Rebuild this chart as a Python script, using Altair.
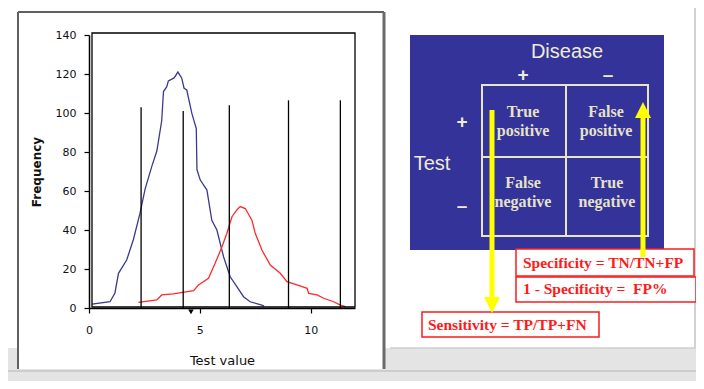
import altair as alt
import pandas as pd

# ---------------- data ----------------
blue_x = [0.14, 0.95, 1.17, 1.33, 1.70, 2.00, 2.30, 2.53, 2.83, 3.06, 3.28, 3.36,
          3.51, 3.58, 3.84, 4.01, 4.18, 4.29, 4.41, 4.64, 4.84, 4.87, 5.02, 5.32,
          5.54, 5.77, 6.07, 6.37, 6.67, 6.97, 7.27, 7.80, 7.90]
blue_y = [2.0, 3.2, 7.7, 17.8, 24.6, 35.0, 48.5, 61.0, 72.5, 80.5, 96.0, 111.0,
          113.5, 116.5, 118.0, 121.0, 118.0, 112.7, 111.8, 99.8, 92.0, 71.0, 65.6, 60.5,
          45.0, 40.0, 26.3, 16.0, 11.0, 5.8, 3.2, 1.5, 1.0]

red_x = [2.23, 3.06, 3.28, 3.80, 4.72, 4.94, 5.39, 5.69, 6.00, 6.22, 6.45, 6.67,
         6.82, 7.05, 7.35, 7.50, 7.80, 8.18, 8.63, 8.93, 9.38, 9.84, 9.91, 10.29,
         10.59, 11.04, 11.34, 11.57]
red_y = [2.9, 4.1, 6.7, 7.2, 8.9, 11.8, 15.2, 22.9, 31.4, 38.3, 46.8, 50.3,
         52.0, 51.0, 45.0, 38.3, 29.7, 22.0, 17.8, 13.5, 11.8, 10.1, 7.5, 6.7,
         5.0, 3.2, 1.5, 0.7]

cutoffs = [2.35, 4.25, 6.33, 9.0, 11.34]
cutoff_heights = [103, 101, 104, 106.5, 106.5]
marker_x = [4.6]

x_ticks = [0, 5, 10]
y_ticks = [0, 20, 40, 60, 80, 100, 120, 140]

disease_title = "Disease"
test_title = "Test"
sign_labels = ["+", "–", "+", "–"]
cell_line1 = ["True", "False", "False", "True"]
cell_line2 = ["positive", "positive", "negative", "negative"]
formulas = ["Specificity = TN/TN+FP", "1 - Specificity = \u00a0FP%", "Sensitivity = TP/TP+FN"]

# ---------------- layout (page pixels of the reference) ----------------
W, H = 266, 273
PAD = {"left": 81, "top": 27, "right": 688 - 81 - W, "bottom": 373 - 27 - H}
CX = alt.Scale(domain=[0, 704], range=[-89, 615], nice=False, zero=False)
CY = alt.Scale(domain=[0, 389], range=[-35, 354], nice=False, zero=False)


def px(f):
    return alt.X(f"{f}:Q", scale=CX, axis=None)


def py(f):
    return alt.Y(f"{f}:Q", scale=CY, axis=None)


# ---------------- frequency plot ----------------
XS = alt.Scale(domain=[0, 12], nice=False, zero=False)
YS = alt.Scale(domain=[0, 140], nice=False, zero=False)
x_axis = alt.Axis(orient="bottom", values=x_ticks, tickSize=5, tickColor="black", tickWidth=1.2,
                  domainColor="black", domainWidth=1.5, labelFont="DejaVu Sans", labelFontSize=11,
                  labelColor="#111111", labelPadding=11, labelFlush=False, grid=False,
                  titleFont="DejaVu Sans", titleFontSize=13, titleFontWeight="normal",
                  titleColor="#111111", titlePadding=19, zindex=1)
y_axis = alt.Axis(orient="left", values=y_ticks, tickSize=5, tickColor="black", tickWidth=1.2,
                  domainColor="black", domainWidth=1.5, labelFont="DejaVu Sans", labelFontSize=11,
                  labelColor="#111111", labelPadding=8, grid=False,
                  titleFont="DejaVu Sans", titleFontSize=12, titleFontWeight="bold",
                  titleColor="#111111", titlePadding=12, zindex=1)

curves = pd.DataFrame({
    "x": blue_x + red_x,
    "y": blue_y + red_y,
    "group": ["Non-diseased"] * len(blue_x) + ["Diseased"] * len(red_x),
})
cuts = pd.DataFrame({"x": cutoffs, "y": [0] * len(cutoffs), "top": cutoff_heights})
marker = pd.DataFrame({"x": marker_x, "y": [-2]})

lines = alt.Chart(curves).mark_line(strokeWidth=1.3).encode(
    x=alt.X("x:Q", scale=XS, axis=x_axis, title="Test value"),
    y=alt.Y("y:Q", scale=YS, axis=y_axis, title="Frequency"),
    color=alt.Color("group:N", scale=alt.Scale(domain=["Non-diseased", "Diseased"],
                                               range=["#3a3a8c", "#ff2a2a"]), legend=None),
)
cut_rules = alt.Chart(cuts).mark_rule(color="black", strokeWidth=1.3).encode(
    x=alt.X("x:Q", scale=XS, axis=x_axis, title="Test value"),
    y=alt.Y("y:Q", scale=YS, axis=y_axis, title="Frequency"),
    y2="top:Q",
)
mark_pt = alt.Chart(marker).mark_point(shape="triangle-down", filled=True, size=30,
                                       color="black", opacity=1).encode(
    x=alt.X("x:Q", scale=XS, axis=x_axis, title="Test value"),
    y=alt.Y("y:Q", scale=YS, axis=y_axis, title="Frequency"),
)
plot = alt.layer(lines, cut_rules, mark_pt)

# ---------------- window decoration (under) ----------------
under_rects = pd.DataFrame([
    dict(x=0, x2=704, y=348, y2=389, fill="#e4e4e4"),
    dict(x=18, x2=384, y=12, y2=369, fill="#ffffff"),
    dict(x=410, x2=664, y=35, y2=250, fill="#333399"),
])
under_rules = pd.DataFrame([
    dict(x=0, y=371, x2=704, y2=371, c="#c6c6c6", w=1.5),
    dict(x=18, y=12, x2=18, y2=369, c="#606060", w=2),
    dict(x=18, y=12, x2=384, y2=12, c="#606060", w=2),
    dict(x=384, y=12, x2=384, y2=369, c="#6a6a6a", w=3),
    dict(x=390, y=348, x2=696, y2=348, c="#cfcfcf", w=1.5),
    dict(x=695, y=0, x2=695, y2=348, c="#d2d2d2", w=2),
])
under = alt.layer(
    alt.Chart(under_rects).mark_rect().encode(
        x=px("x"), x2="x2:Q", y=py("y"), y2="y2:Q",
        fill=alt.Fill("fill:N", scale=None)),
    alt.Chart(under_rules).mark_rule().encode(
        x=px("x"), x2="x2:Q", y=py("y"), y2="y2:Q",
        color=alt.Color("c:N", scale=None), strokeWidth=alt.StrokeWidth("w:Q", scale=None)),
)

# ---------------- diagram (over) ----------------
box_rects = pd.DataFrame([
    dict(x=92, x2=355, y=33, y2=307, fill="#ffffff", fo=0, s="#000000", w=1.3),
    dict(x=482, x2=648, y=85, y2=236, fill="#ffffff", fo=0, s="#e8e4c6", w=2),
    dict(x=516, x2=694, y=249, y2=276, fill="#ffffff", fo=1, s="#ff1a1a", w=1.5),
    dict(x=516, x2=696, y=277, y2=302, fill="#ffffff", fo=1, s="#ff1a1a", w=1.5),
    dict(x=422, x2=599, y=312, y2=337, fill="#ffffff", fo=1, s="#ff1a1a", w=1.5),
])
grid_rules = pd.DataFrame([
    dict(x=566, y=85, x2=566, y2=236),
    dict(x=482, y=157, x2=648, y2=157),
])
shafts = pd.DataFrame([
    dict(x=492, y=110, x2=492, y2=299),
    dict(x=643, y=257, x2=643, y2=116),
])
head_down = pd.DataFrame([dict(x=492, y=305)])
head_up = pd.DataFrame([dict(x=643, y=110)])

titles = pd.DataFrame({"t": [disease_title, test_title], "x": [567, 432], "y": [52, 164]})
signs = pd.DataFrame({"t": sign_labels, "x": [523, 608, 462, 462], "y": [75, 75, 122, 206]})
cells = pd.DataFrame({
    "t": cell_line1 + cell_line2,
    "x": [523, 606, 523, 607] * 2,
    "y": [112, 112, 183, 183, 131, 131, 202, 202],
})
formula_df = pd.DataFrame({"t": formulas, "x": [523, 523, 428], "y": [263, 289, 325]})

over = alt.layer(
    alt.Chart(box_rects).mark_rect().encode(
        x=px("x"), x2="x2:Q", y=py("y"), y2="y2:Q",
        fill=alt.Fill("fill:N", scale=None), fillOpacity=alt.FillOpacity("fo:Q", scale=None),
        stroke=alt.Stroke("s:N", scale=None), strokeWidth=alt.StrokeWidth("w:Q", scale=None)),
    alt.Chart(grid_rules).mark_rule(color="#e8e4c6", strokeWidth=2).encode(
        x=px("x"), x2="x2:Q", y=py("y"), y2="y2:Q"),
    alt.Chart(titles).mark_text(font="Liberation Sans", fontSize=20, color="#efebd8",
                                baseline="middle", align="center").encode(
        x=px("x"), y=py("y"), text="t:N"),
    alt.Chart(signs).mark_text(font="Liberation Sans", fontSize=19, fontWeight="bold",
                               color="#efebd8", baseline="middle", align="center").encode(
        x=px("x"), y=py("y"), text="t:N"),
    alt.Chart(cells).mark_text(font="Liberation Serif", fontSize=16, fontWeight="bold",
                               color="#e6e2c8", baseline="middle", align="center").encode(
        x=px("x"), y=py("y"), text="t:N"),
    alt.Chart(formula_df).mark_text(font="Liberation Serif", fontSize=15.5, fontWeight="bold",
                                    color="#ff1a1a", baseline="middle", align="left").encode(
        x=px("x"), y=py("y"), text="t:N"),
    alt.Chart(shafts).mark_rule(color="#ffff00", strokeWidth=5).encode(
        x=px("x"), x2="x2:Q", y=py("y"), y2="y2:Q"),
    alt.Chart(head_down).mark_point(shape="M-1,-1L1,-1L0,1Z", filled=True, size=256,
                                    color="#ffff00", opacity=1).encode(x=px("x"), y=py("y")),
    alt.Chart(head_up).mark_point(shape="M-1,1L1,1L0,-1Z", filled=True, size=256,
                                  color="#ffff00", opacity=1).encode(x=px("x"), y=py("y")),
)

chart = alt.layer(under, plot, over).resolve_scale(
    x="independent", y="independent"
).properties(
    width=W, height=H, padding=PAD, background="white",
    autosize=alt.AutoSizeParams(type="none"),
).configure_view(stroke=None)

chart.save("out.html", embed_options={"renderer": "svg", "actions": False})
